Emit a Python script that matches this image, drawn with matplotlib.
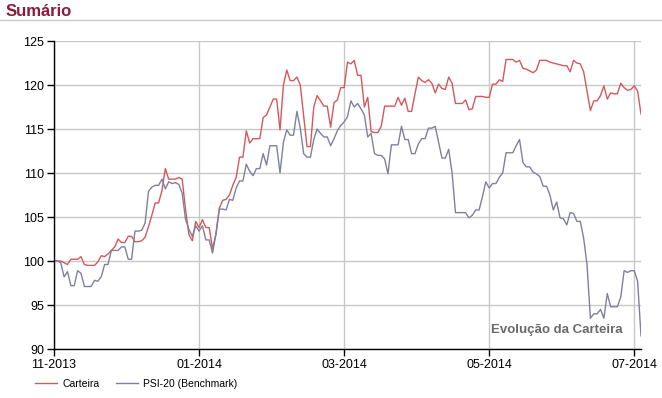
import numpy as np
import pandas as pd
import matplotlib
matplotlib.use("Agg")
import matplotlib.pyplot as plt
from matplotlib.lines import Line2D

plt.rcParams['font.family'] = ['Liberation Sans', 'DejaVu Sans']

# trading days shown on the chart
dates = pd.bdate_range('2013-11-01', '2014-07-03')

# Carteira (portfolio), one value per trading day
carteira = [
    100.0, 100.0, 100.0, 99.8, 99.6, 100.2, 100.2, 100.2, 100.5, 99.6,
    99.5, 99.5, 99.5, 99.9, 100.6, 100.5, 100.8, 101.2, 101.6, 102.5,
    102.1, 102.1, 102.8, 102.8, 102.2, 102.2, 102.3, 102.7, 103.9, 105.2,
    106.6, 106.6, 108.0, 110.5, 109.3, 109.3, 109.3, 109.5, 109.3, 105.8,
    103.0, 102.3, 104.5, 103.8, 104.7, 103.8, 103.8, 101.4, 103.0, 106.0,
    106.9, 107.0, 107.5, 108.6, 109.5, 111.8, 111.8, 114.8, 113.4, 113.9,
    113.9, 113.9, 116.3, 116.6, 117.5, 118.4, 118.4, 114.9, 120.0, 121.7,
    120.5, 120.5, 120.9, 120.0, 116.5, 113.0, 113.0, 117.5, 118.8, 118.2,
    117.6, 117.6, 115.2, 118.0, 118.3, 119.7, 119.7, 122.6, 122.4, 122.8,
    121.1, 121.1, 117.5, 118.6, 114.7, 114.6, 114.6, 115.3, 117.6, 117.6,
    117.6, 117.6, 118.6, 117.7, 118.5, 117.0, 117.0, 119.0, 120.9, 120.5,
    120.3, 120.6, 120.2, 119.1, 120.1, 119.6, 119.5, 120.9, 120.2, 117.9,
    117.9, 117.9, 118.3, 117.2, 117.3, 118.7, 118.7, 118.7, 118.6, 118.6,
    120.1, 120.1, 120.6, 120.4, 122.9, 122.9, 122.9, 122.6, 122.8, 121.9,
    121.8, 121.6, 121.4, 121.7, 122.8, 122.8, 122.8, 122.6, 122.5, 122.4,
    122.3, 122.2, 122.2, 121.5, 122.8, 122.5, 122.4, 121.5, 119.3, 117.1,
    118.2, 118.2, 118.8, 119.9, 118.4, 119.1, 119.0, 119.0, 120.2, 119.7,
    119.4, 119.5, 119.9, 119.3, 116.7,
]

# PSI-20 benchmark, one value per trading day
psi20 = [
    100.0, 100.0, 99.8, 98.2, 98.8, 97.2, 97.2, 98.9, 98.6, 97.1,
    97.1, 97.1, 97.8, 97.7, 98.2, 99.6, 99.6, 101.2, 101.2, 101.2,
    101.6, 101.6, 100.2, 100.2, 103.4, 103.4, 103.5, 104.3, 107.9, 108.4,
    108.6, 108.6, 109.3, 108.2, 109.0, 108.8, 108.9, 108.7, 107.7, 104.7,
    103.6, 102.8, 104.0, 103.4, 104.0, 102.4, 102.4, 100.9, 103.1, 105.9,
    105.9, 105.8, 107.0, 106.9, 108.3, 109.1, 109.1, 111.0, 110.2, 109.7,
    110.5, 110.5, 112.2, 110.9, 113.1, 113.1, 113.1, 110.0, 113.5, 114.9,
    114.3, 114.3, 117.0, 115.1, 112.2, 111.8, 111.8, 113.8, 115.0, 114.5,
    114.1, 114.1, 113.1, 113.9, 114.8, 115.4, 115.8, 116.4, 118.2, 117.5,
    117.9, 117.3, 116.6, 114.1, 114.5, 112.2, 112.0, 112.0, 111.6, 109.9,
    113.2, 113.2, 113.2, 115.3, 113.8, 113.8, 112.2, 112.2, 113.3, 113.9,
    113.9, 115.1, 115.1, 115.3, 113.5, 111.7, 111.7, 112.7, 110.0, 105.5,
    105.5, 105.5, 105.5, 104.9, 105.2, 105.8, 105.8, 107.3, 109.0, 108.3,
    108.8, 108.8, 109.5, 110.0, 112.3, 112.3, 112.3, 113.1, 113.8, 111.2,
    110.7, 110.7, 110.1, 109.9, 109.6, 108.5, 108.5, 107.5, 105.8, 106.7,
    104.9, 104.8, 104.1, 105.5, 105.4, 104.5, 104.5, 102.6, 99.6, 93.5,
    94.0, 94.0, 94.5, 93.5, 96.3, 94.8, 94.8, 94.8, 95.9, 98.9,
    98.7, 98.9, 98.9, 97.7, 91.5,
]

tick_months = ['2013-11', '2014-01', '2014-03', '2014-05', '2014-07']
y_ticks = [90, 95, 100, 105, 110, 115, 120, 125]

# x is the trading-day position (the chart spaces trading days evenly)
x = np.arange(len(dates))
tick_pos = [int(np.argmax(dates >= pd.Timestamp(m + '-01'))) for m in tick_months]
tick_lab = [dates[p].strftime('%m-%Y') for p in tick_pos]

fig = plt.figure(figsize=(6.62, 3.98), dpi=100)
ax = fig.add_axes([54 / 662, 1 - 349 / 398, 587 / 662, 308 / 398])

red = '#d4585c'
blue = '#7f819c'
ax.plot(x, carteira, color=red, lw=1.0, label='Carteira')
ax.plot(x, psi20, color=blue, lw=1.0, label='PSI-20 (Benchmark)')

ax.set_xlim(0, len(dates) - 1)
ax.set_ylim(90, 125)
ax.set_yticks(y_ticks)
ax.set_xticks(tick_pos)
ax.set_xticklabels(tick_lab)
ax.grid(True, color='#c8c8c8', lw=1.0)
ax.set_axisbelow(True)
for s in ['top', 'right']:
    ax.spines[s].set_visible(False)
for s in ['left', 'bottom']:
    ax.spines[s].set_color('black')
    ax.spines[s].set_linewidth(1.0)
ax.tick_params(axis='both', direction='out', length=5, width=1, colors='black',
               labelsize=9, pad=2)

ax.text(0.969, 0.062, 'Evolução da Carteira', transform=ax.transAxes,
        ha='right', va='center', fontsize=9.5, fontweight='bold', color='#6a6a6a')

# header
fig.text(6 / 662, 1 - 12 / 398, 'Sumário', ha='left', va='center',
         fontsize=12, fontweight='bold', color='#8b1a3c')
fig.add_artist(Line2D([0, 1], [1 - 19.5 / 398, 1 - 19.5 / 398],
                      color='#c8c8c8', lw=1.0, transform=fig.transFigure))

fig.legend(loc='center left', bbox_to_anchor=(35 / 662, 1 - 384 / 398), ncol=2,
           frameon=False, fontsize=7.5, handlelength=2.1, handletextpad=0.5,
           columnspacing=1.6, borderaxespad=0, borderpad=0)

fig.savefig('out.png', dpi=100)
